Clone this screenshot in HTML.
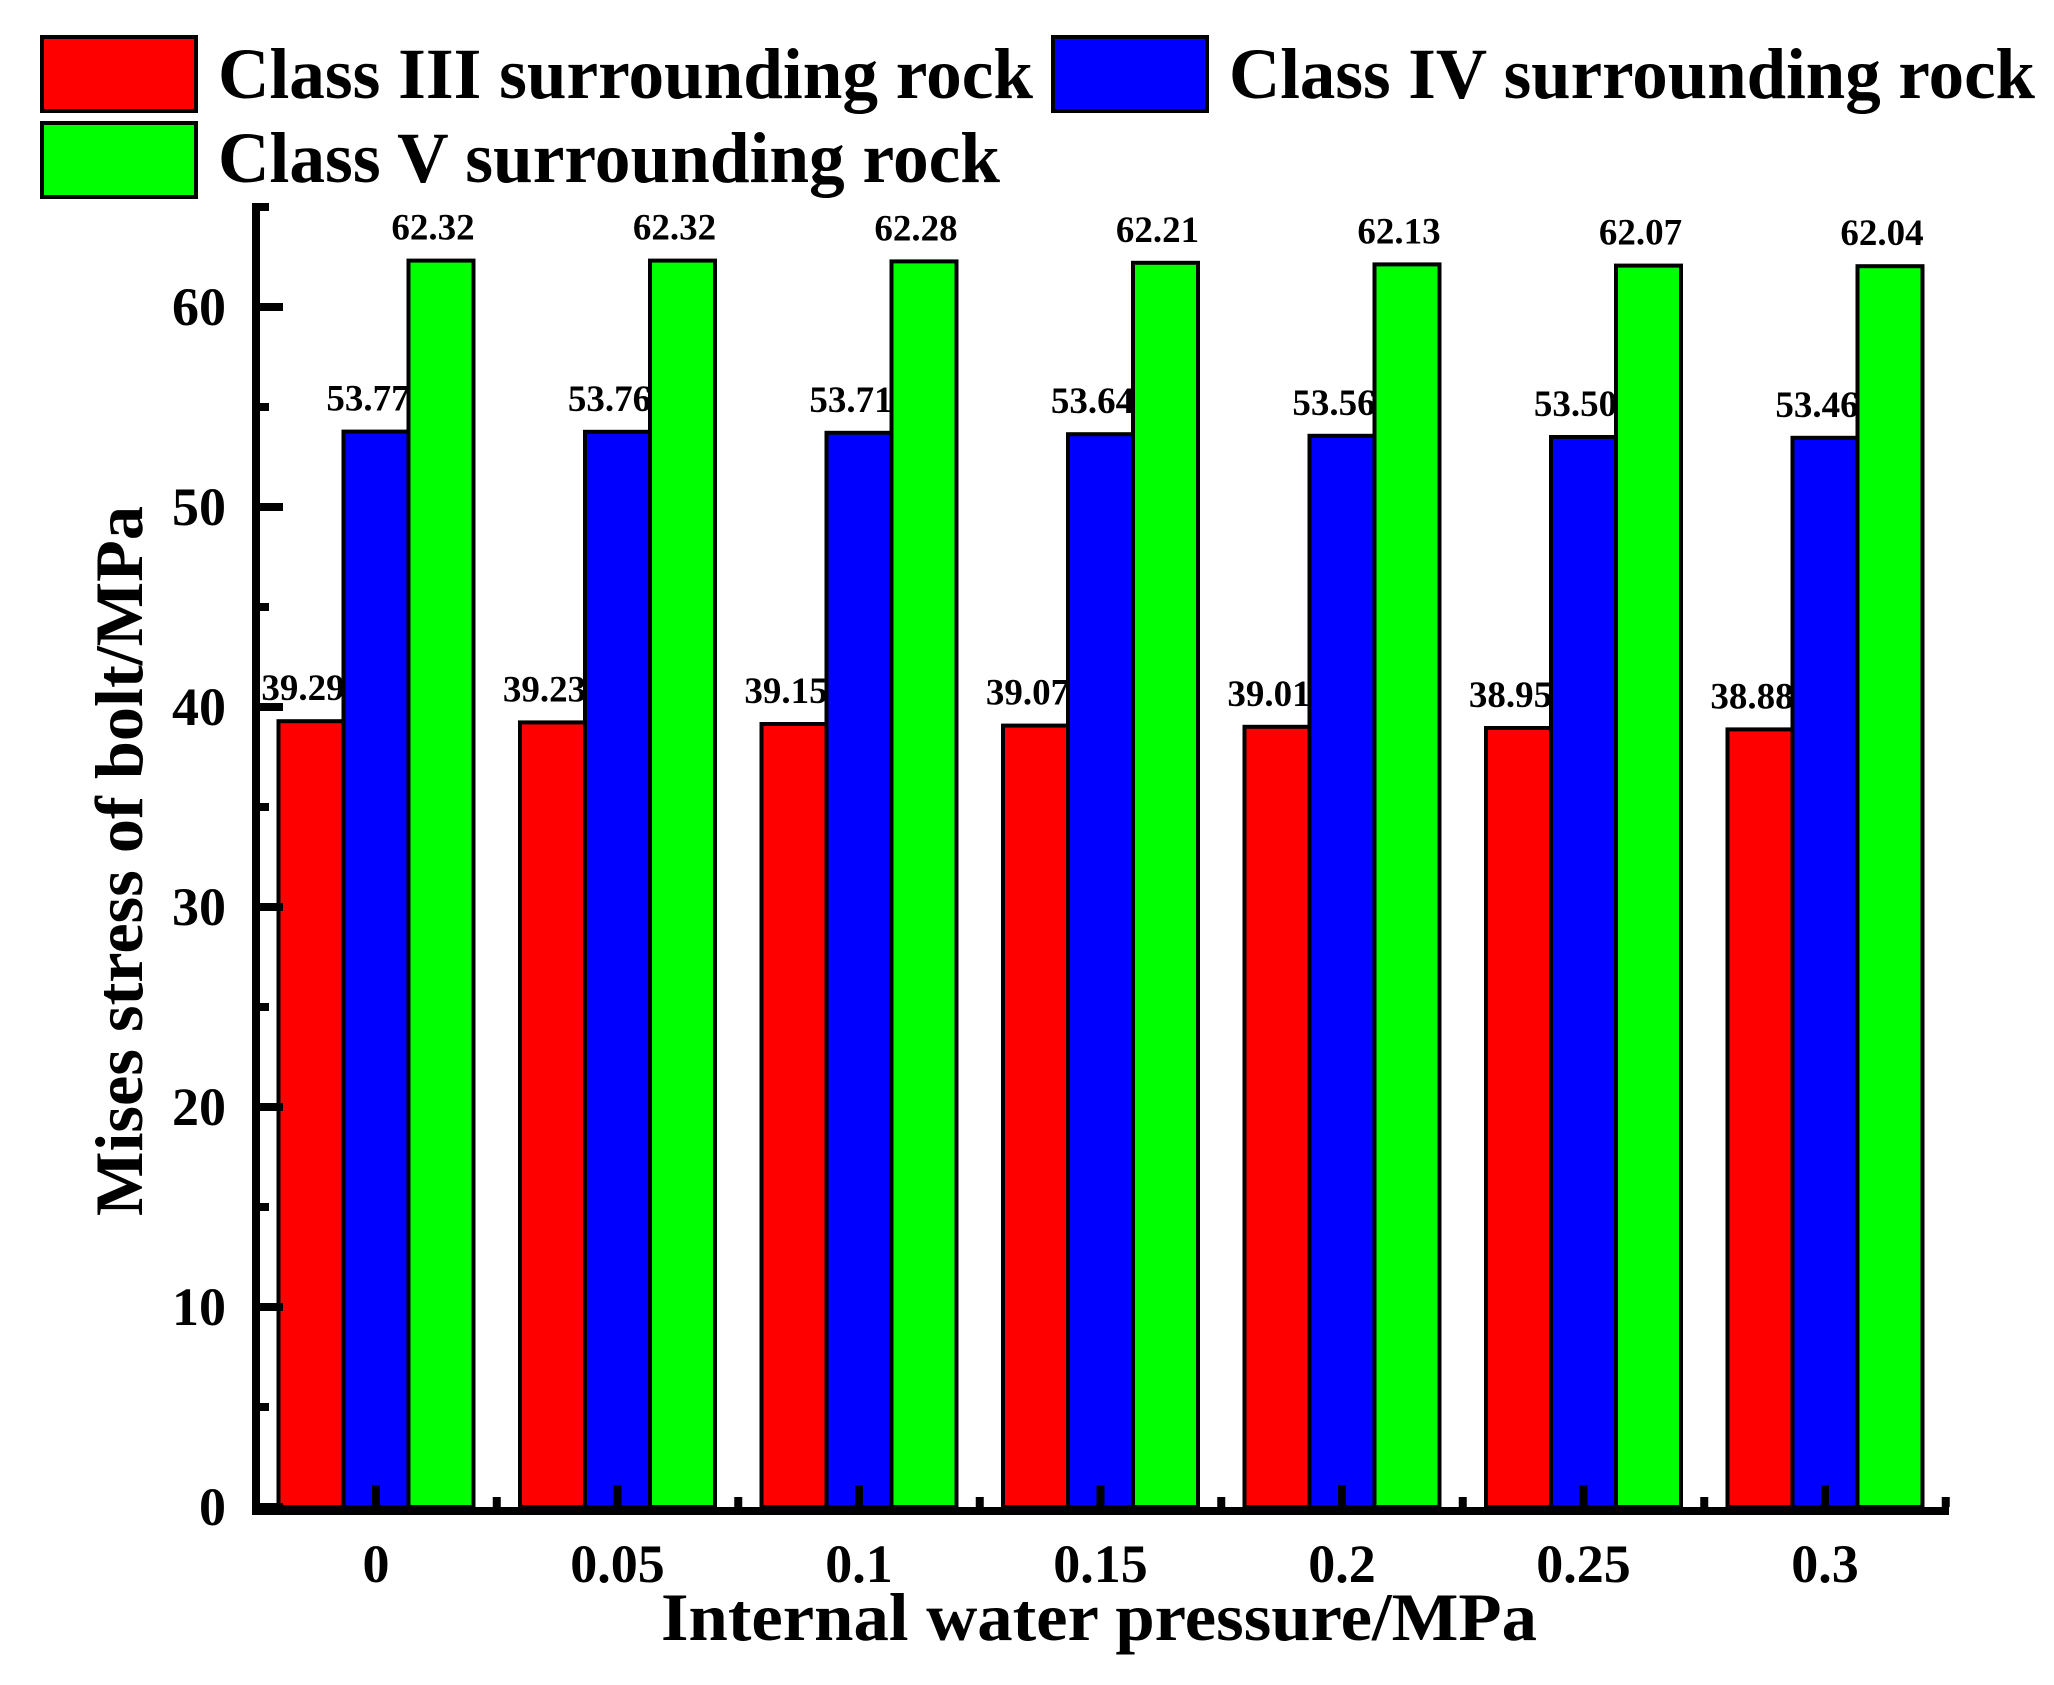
<!DOCTYPE html>
<html><head><meta charset="utf-8"><style>html,body{margin:0;padding:0;background:#fff}svg{display:block}text{font-family:"Liberation Serif",serif;font-weight:bold;fill:#000}</style></head>
<body>
<svg id="chart" width="2054" height="1685" viewBox="0 0 2054 1685" xmlns="http://www.w3.org/2000/svg">
<g>
<rect x="42" y="37" width="154" height="74" fill="#ff0000" stroke="#000" stroke-width="4"/>
<text x="218" y="98" font-size="72" textLength="815" lengthAdjust="spacingAndGlyphs">Class III surrounding rock</text>
<rect x="1053" y="37" width="154" height="74" fill="#0000ff" stroke="#000" stroke-width="4"/>
<text x="1229" y="98" font-size="72" textLength="806" lengthAdjust="spacingAndGlyphs">Class IV surrounding rock</text>
<rect x="42" y="123" width="154" height="74" fill="#00ff00" stroke="#000" stroke-width="4"/>
<text x="218" y="182" font-size="72" textLength="782" lengthAdjust="spacingAndGlyphs">Class V surrounding rock</text>
</g>
<g id="bars"></g>
<g id="axes"></g>
<text x="1099" y="1640" font-size="68" text-anchor="middle" textLength="876" lengthAdjust="spacingAndGlyphs">Internal water pressure/MPa</text>
<text transform="translate(142,861) rotate(-90)" x="0" y="0" font-size="68" text-anchor="middle" textLength="710" lengthAdjust="spacingAndGlyphs">Mises stress of bolt/MPa</text>
</svg>
<script>
const categories = ["0","0.05","0.1","0.15","0.2","0.25","0.3"];
const classIII = [39.29,39.23,39.15,39.07,39.01,38.95,38.88];
const classIV = [53.77,53.76,53.71,53.64,53.56,53.50,53.46];
const classV = [62.32,62.32,62.28,62.21,62.13,62.07,62.04];
const yTicks = [0,10,20,30,40,50,60];
const yMinorTicks = [5,15,25,35,45,55,65];

const NS="http://www.w3.org/2000/svg";
const y0=1507, pxPerUnit=20, xFirst=376, step=241.5, barW=65, axisX=256;
function yScale(v){return y0 - v*pxPerUnit;}
function xScale(i){return xFirst + i*step;}
function mk(tag, attrs, parent){const e=document.createElementNS(NS,tag);for(const k in attrs)e.setAttribute(k,attrs[k]);parent.appendChild(e);return e;}
const bars=document.getElementById('bars'), axes=document.getElementById('axes');
const series=[{v:classIII,c:"#ff0000",n:"class-iii"},{v:classIV,c:"#0000ff",n:"class-iv"},{v:classV,c:"#00ff00",n:"class-v"}];
categories.forEach((cat,i)=>{
  series.forEach((s,j)=>{
    const x=xScale(i)-1.5*barW+j*barW;
    const top=yScale(s.v[i]);
    const r=mk('rect',{x:x,y:top,width:barW,height:y0-top,fill:s.c,stroke:'#000','stroke-width':4},bars);
    
    
    const t=mk('text',{x:x+barW/2-8,y:top-21,'font-size':37,'text-anchor':'middle'},bars);
    t.textContent=s.v[i].toFixed(2);
    
    
  });
  const tk=mk('rect',{x:xScale(i)-4,y:y0-22,width:8,height:22,fill:'#000'},axes);
  
  
  const mt=mk('rect',{x:xScale(i)+step/2-4,y:y0-10,width:8,height:10,fill:'#000'},axes);
  
  
  const lb=mk('text',{x:xScale(i),y:1582,'font-size':54,'text-anchor':'middle'},axes);
  lb.textContent=cat;
  
  
});
const ya=mk('rect',{x:axisX-4,y:203,width:8,height:1312,fill:'#000'},axes);


const xa=mk('rect',{x:axisX-4,y:y0,width:1949-axisX+4,height:8,fill:'#000'},axes);


yTicks.forEach(v=>{
  const t=mk('rect',{x:axisX,y:yScale(v)-4,width:27,height:8,fill:'#000'},axes);
  
  
  const l=mk('text',{x:226,y:yScale(v)+18,'font-size':54,'text-anchor':'end'},axes);
  l.textContent=String(v);
  
  
});
yMinorTicks.forEach(v=>{
  const t=mk('rect',{x:axisX,y:yScale(v)-4,width:13,height:8,fill:'#000'},axes);
  
  
});
</script>
</body></html>
